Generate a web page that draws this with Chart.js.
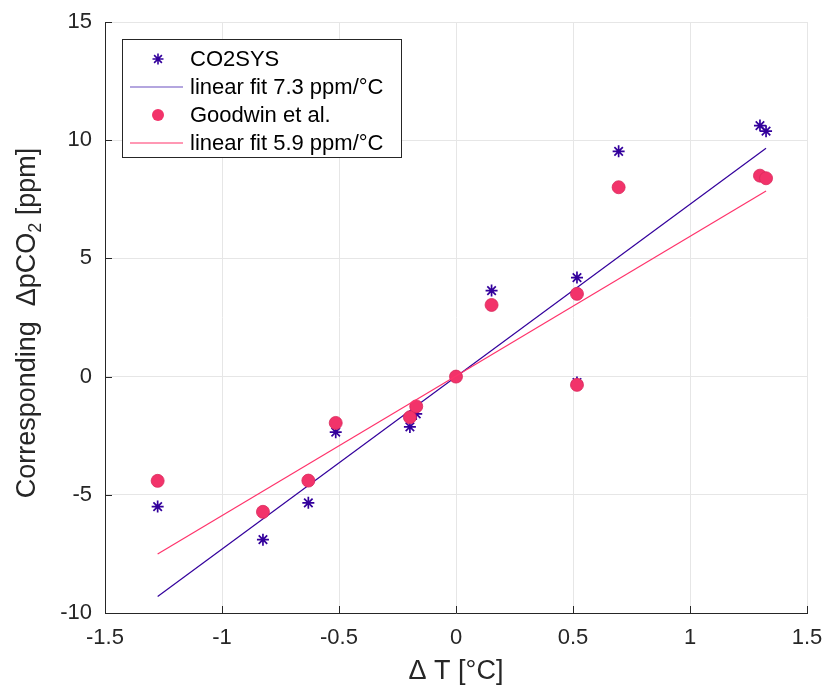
<!DOCTYPE html>
<html>
<head>
<meta charset="utf-8">
<script src="https://cdn.jsdelivr.net/npm/chart.js@4"></script>
<style>
  html, body { margin: 0; padding: 0; background: #fff; }
</style>
</head>
<body>
<canvas id="chart" width="829" height="689"></canvas>
<script>
// values
const deltaT = [-1.275, -0.825, -0.631, -0.514, -0.197, -0.170, 0, 0.152, 0.517, 0.517, 0.695, 1.299, 1.325];
const co2sysValues = [-5.50, -6.90, -5.34, -2.35, -2.13, -1.58, 0, 3.64, 4.19, -0.25, 9.53, 10.62, 10.38];
const goodwinValues = [-4.41, -5.72, -4.40, -1.96, -1.72, -1.26, 0, 3.03, 3.50, -0.35, 8.01, 8.50, 8.39];
const fitX = [-1.275, 1.325];
const co2sysFit = [-9.30, 9.66];
const goodwinFit = [-7.50, 7.85];
const xTicks = [-1.5, -1, -0.5, 0, 0.5, 1, 1.5];
const yTicks = [-10, -5, 0, 5, 10, 15];
const seriesLabels = ['CO2SYS', 'linear fit 7.3 ppm/°C', 'Goodwin et al.', 'linear fit 5.9 ppm/°C'];

const BLUE = '#33009c';
const PINK = '#f2336a';
const PINK_LINE = '#ff336b';
const TEXT = '#262626';
const FONT = '"Liberation Sans", Arial, sans-serif';

const toPoints = (xs, ys) => xs.map((x, i) => ({ x: x, y: ys[i] }));

function drawStar(ctx, x, y, r) {
  ctx.beginPath();
  for (let k = 0; k < 4; k++) {
    const a = k * Math.PI / 4;
    ctx.moveTo(x - r * Math.cos(a), y - r * Math.sin(a));
    ctx.lineTo(x + r * Math.cos(a), y + r * Math.sin(a));
  }
  ctx.stroke();
}

// legend box inside the plot, upper left, like the original figure
const insideLegend = {
  id: 'insideLegend',
  afterDraw(chart) {
    const ctx = chart.ctx;
    const bx = 122.5, by = 39.5, bw = 279, bh = 118;
    ctx.save();
    ctx.fillStyle = '#fff';
    ctx.fillRect(bx, by, bw, bh);
    ctx.strokeStyle = TEXT;
    ctx.lineWidth = 1;
    ctx.strokeRect(bx, by, bw, bh);

    const rows = [59, 87, 115, 143];
    ctx.font = '22px ' + FONT;
    ctx.textBaseline = 'middle';
    ctx.fillStyle = '#000';
    rows.forEach((ry, i) => ctx.fillText(seriesLabels[i], 190, ry + 1));

    ctx.strokeStyle = BLUE;
    ctx.lineWidth = 1.6;
    drawStar(ctx, 158, rows[0], 5.5);

    ctx.lineWidth = 1.2;
    ctx.strokeStyle = '#6a4fc0';
    ctx.beginPath(); ctx.moveTo(130, rows[1]); ctx.lineTo(183, rows[1]); ctx.stroke();

    ctx.fillStyle = PINK;
    ctx.beginPath(); ctx.arc(158, rows[2], 6, 0, Math.PI * 2); ctx.fill();

    ctx.strokeStyle = PINK_LINE;
    ctx.beginPath(); ctx.moveTo(130, rows[3]); ctx.lineTo(183, rows[3]); ctx.stroke();
    ctx.restore();
  }
};

// MATLAB style tick marks pointing into the plot
const innerTicks = {
  id: 'innerTicks',
  afterDatasetsDraw(chart) {
    const ctx = chart.ctx;
    const area = chart.chartArea;
    const xs = chart.scales.x, ys = chart.scales.y;
    ctx.save();
    ctx.strokeStyle = TEXT;
    ctx.lineWidth = 1;
    ctx.beginPath();
    xTicks.forEach(v => {
      const px = Math.round(xs.getPixelForValue(v)) + 0.5;
      ctx.moveTo(px, area.bottom);
      ctx.lineTo(px, area.bottom - 7);
    });
    yTicks.forEach(v => {
      const py = Math.round(ys.getPixelForValue(v)) + 0.5;
      ctx.moveTo(area.left, py);
      ctx.lineTo(area.left + 7, py);
    });
    ctx.stroke();
    ctx.restore();
  }
};

// y axis title with a real subscript 2
const yTitle = {
  id: 'yTitle',
  afterDraw(chart) {
    const ctx = chart.ctx;
    const big = '27px ' + FONT, small = '18px ' + FONT;
    const p1 = 'Corresponding  ΔpCO', p2 = '2', p3 = ' [ppm]';
    ctx.save();
    ctx.font = big;
    const w1 = ctx.measureText(p1).width, w3 = ctx.measureText(p3).width;
    ctx.font = small;
    const w2 = ctx.measureText(p2).width;
    const total = w1 + w2 + w3;
    ctx.translate(35, 323);
    ctx.rotate(-Math.PI / 2);
    ctx.fillStyle = TEXT;
    ctx.textBaseline = 'alphabetic';
    ctx.textAlign = 'left';
    let x = -total / 2;
    ctx.font = big; ctx.fillText(p1, x, 0); x += w1;
    ctx.font = small; ctx.fillText(p2, x, 6); x += w2;
    ctx.font = big; ctx.fillText(p3, x, 0);
    ctx.restore();
  }
};

new Chart(document.getElementById('chart'), {
  type: 'scatter',
  data: {
    datasets: [
      {
        label: seriesLabels[0],
        data: toPoints(deltaT, co2sysValues),
        pointStyle: 'star',
        pointRadius: 6,
        borderColor: BLUE,
        backgroundColor: BLUE,
        pointBorderWidth: 1.7,
        order: 4
      },
      {
        label: seriesLabels[1],
        type: 'line',
        data: toPoints(fitX, co2sysFit),
        borderColor: BLUE,
        borderWidth: 1.2,
        pointRadius: 0,
        fill: false,
        order: 3
      },
      {
        label: seriesLabels[2],
        data: toPoints(deltaT, goodwinValues),
        pointStyle: 'circle',
        pointRadius: 6.5,
        backgroundColor: PINK,
        borderColor: '#d92a5c',
        pointBorderWidth: 0.8,
        order: 2
      },
      {
        label: seriesLabels[3],
        type: 'line',
        data: toPoints(fitX, goodwinFit),
        borderColor: PINK_LINE,
        borderWidth: 1.2,
        pointRadius: 0,
        fill: false,
        order: 1
      }
    ]
  },
  options: {
    responsive: false,
    animation: false,
    devicePixelRatio: 1,
    layout: { padding: { top: 22, right: 22, left: 0, bottom: 0 } },
    plugins: {
      legend: { display: false },
      tooltip: { enabled: false }
    },
    scales: {
      x: {
        type: 'linear',
        min: -1.5,
        max: 1.5,
        afterFit: s => { s.height = 76; s.paddingLeft = 0; s.paddingRight = 0; },
        afterBuildTicks: s => { s.ticks = xTicks.map(v => ({ value: v })); },
        ticks: {
          padding: 12,
          color: TEXT,
          font: { family: FONT, size: 22 },
          callback: v => String(v)
        },
        grid: { color: '#e6e6e6', drawTicks: false },
        border: { color: TEXT, width: 1 },
        title: {
          display: true,
          text: 'Δ T [°C]',
          color: TEXT,
          font: { family: FONT, size: 27 },
          padding: { top: 0, bottom: 1 }
        }
      },
      y: {
        type: 'linear',
        min: -10,
        max: 15,
        afterFit: s => { s.width = 105; s.paddingTop = 0; s.paddingBottom = 0; },
        afterBuildTicks: s => { s.ticks = yTicks.map(v => ({ value: v })); },
        ticks: {
          padding: 13,
          color: TEXT,
          font: { family: FONT, size: 22 },
          callback: v => String(v)
        },
        grid: { color: '#e6e6e6', drawTicks: false },
        border: { color: TEXT, width: 1 }
      }
    }
  },
  plugins: [innerTicks, insideLegend, yTitle]
});
</script>
</body>
</html>
